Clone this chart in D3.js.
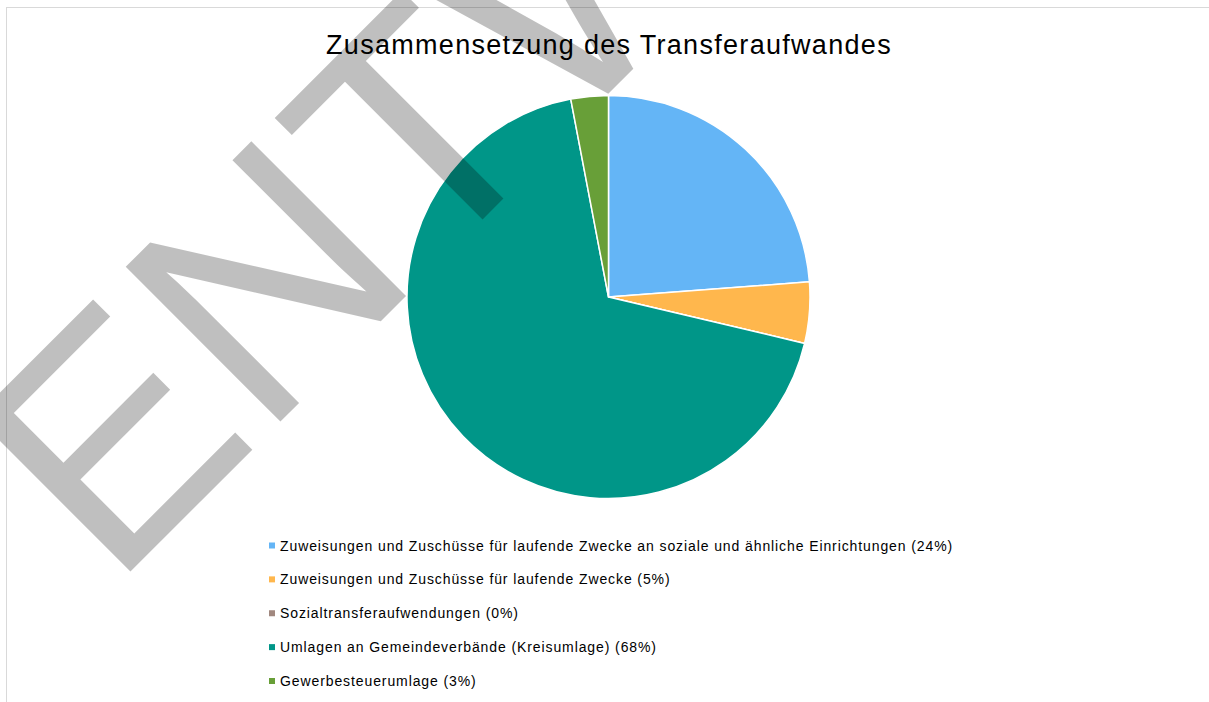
<html>
<head>
<meta charset="utf-8">
<style>
    body {
        margin: 0;
        background: white;
        font-family: "Liberation Sans", Arial, Helvetica, sans-serif;
    }
    svg {
        display: block;
    }
</style>
</head>
<script src="https://cdn.jsdelivr.net/npm/d3@7"></script>
<body>
    <svg id="chart"></svg>
</body>
<script>
    // chart data
    const title = "Zusammensetzung des Transferaufwandes"
    const categories = [
        "Zuweisungen und Zuschüsse für laufende Zwecke an soziale und ähnliche Einrichtungen",
        "Zuweisungen und Zuschüsse für laufende Zwecke",
        "Sozialtransferaufwendungen",
        "Umlagen an Gemeindeverbände (Kreisumlage)",
        "Gewerbesteuerumlage"
    ]
    const shares = [23.8, 4.9, 0, 68.3, 3.0]
    const colors = ["#64b5f6", "#ffb74d", "#a1887f", "#009688", "#689f38"]
    const watermark = "ENTWURF"

    let width = 1209
    let height = 702

    let svg = d3.select("#chart")
        .attr("width", width)
        .attr("height", height)

    // chart area frame (only top and left edge are visible)
    svg.append("rect")
        .attr("x", 6.5)
        .attr("y", 7.5)
        .attr("width", 1400)
        .attr("height", 900)
        .attr("fill", "white")
        .attr("stroke", "#d9d9d9")
        .attr("stroke-width", 1)

    svg.append("text")
        .attr("x", 609)
        .attr("y", 54)
        .attr("text-anchor", "middle")
        .attr("font-size", "27px")
        .attr("letter-spacing", "1.3px")
        .attr("fill", "#000")
        .text(title)

    function drawPie(){
        let cx = 608.5, cy = 297, radius = 201.5
        let data = shares.map((v, i) => ({ name: categories[i], value: v, color: colors[i] }))

        let pie = d3.pie()
            .sort(null)
            .value(d => d.value)

        let arc = d3.arc()
            .innerRadius(0)
            .outerRadius(radius)

        let g = svg.append("g")
            .attr("transform", `translate(${cx},${cy})`)

        g.selectAll("path")
            .data(pie(data))
            .enter().append("path")
            .attr("d", arc)
            .attr("fill", d => d.data.color)
            .attr("stroke", "white")
            .attr("stroke-width", 1.5)
            .attr("stroke-linejoin", "round")
    }

    function drawLegend(){
        let total = d3.sum(shares)
        let rowY = d3.scaleLinear()
            .domain([0, categories.length - 1])
            .range([545.5, 681])

        let rows = svg.append("g").selectAll("g")
            .data(categories)
            .enter().append("g")
            .attr("transform", (d, i) => `translate(0,${rowY(i)})`)

        rows.append("rect")
            .attr("x", 269)
            .attr("y", -3)
            .attr("width", 6)
            .attr("height", 6)
            .attr("fill", (d, i) => colors[i])

        rows.append("text")
            .attr("x", 280)
            .attr("y", 5)
            .attr("font-size", "14px")
            .attr("letter-spacing", "0.9px")
            .attr("fill", "#000")
            .text((d, i) => `${d} (${Math.round(shares[i] / total * 100)}%)`)
    }

    drawPie()
    drawLegend()

    // draft watermark lies over everything
    svg.append("text")
        .attr("transform", "translate(112,590) rotate(-45)")
        .attr("font-size", "318px")
        .attr("fill", "#000")
        .attr("fill-opacity", 0.25)
        .text(watermark)
</script>
</html>
